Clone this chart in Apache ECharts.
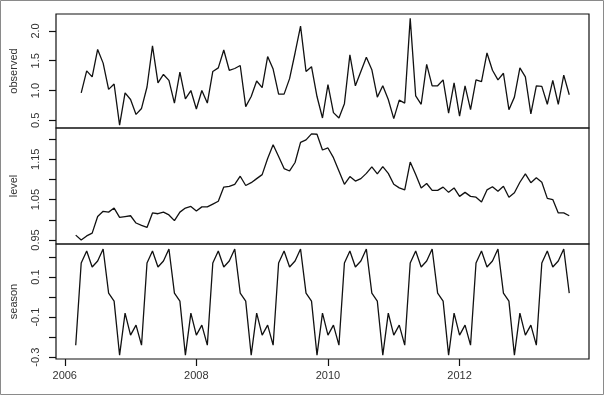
<!DOCTYPE html>
<html>
<head>
<meta charset="utf-8">
<script src="https://cdn.jsdelivr.net/npm/echarts@6/dist/echarts.min.js"></script>
<style>
html,body{margin:0;padding:0;background:#fff;}
#chart{width:605px;height:396px;}
</style>
</head>
<body>
<div id="chart"></div>
<script>
// monthly series, first point March 2006
var startYear = 2006, startMonth = 3;

var observed = [null, 0.96, 1.33, 1.23, 1.69, 1.46, 1.02, 1.11, 0.42, 0.96, 0.85, 0.60,
  0.70, 1.06, 1.75, 1.13, 1.27, 1.17, 0.79, 1.31, 0.86, 1.00, 0.69, 1.00,
  0.79, 1.32, 1.38, 1.68, 1.34, 1.37, 1.42, 0.73, 0.90, 1.16, 1.05, 1.57,
  1.36, 0.94, 0.94, 1.20, 1.63, 2.08, 1.32, 1.40, 0.90, 0.54, 1.10, 0.63,
  0.54, 0.78, 1.60, 1.08, 1.32, 1.56, 1.35, 0.89, 1.08, 0.85, 0.53, 0.84,
  0.79, 2.21, 0.91, 0.77, 1.44, 1.08, 1.08, 1.18, 0.62, 1.13, 0.57, 1.08,
  0.68, 1.18, 1.15, 1.63, 1.34, 1.18, 1.29, 0.68, 0.89, 1.38, 1.23, 0.61,
  1.08, 1.07, 0.77, 1.17, 0.77, 1.26, 0.93];

var level = [0.962, 0.950, 0.960, 0.967, 1.008, 1.021, 1.019, 1.029, 1.006, 1.008, 1.010, 0.992,
  0.986, 0.981, 1.017, 1.015, 1.019, 1.012, 0.998, 1.019, 1.029, 1.033, 1.022, 1.032,
  1.032, 1.039, 1.046, 1.081, 1.083, 1.088, 1.108, 1.085, 1.092, 1.102, 1.112, 1.152,
  1.186, 1.157, 1.127, 1.121, 1.142, 1.192, 1.198, 1.213, 1.212, 1.173, 1.178, 1.154,
  1.121, 1.088, 1.107, 1.096, 1.102, 1.115, 1.131, 1.114, 1.132, 1.115, 1.088, 1.079,
  1.074, 1.143, 1.112, 1.079, 1.090, 1.073, 1.073, 1.081, 1.068, 1.079, 1.058, 1.068,
  1.058, 1.056, 1.044, 1.074, 1.082, 1.071, 1.083, 1.056, 1.067, 1.093, 1.114, 1.092,
  1.104, 1.093, 1.053, 1.050, 1.017, 1.017, 1.010];

var season = [-0.24, 0.17, 0.23, 0.15, 0.18, 0.24, 0.02, -0.02, -0.29, -0.08, -0.19, -0.14,
  -0.24, 0.17, 0.23, 0.15, 0.18, 0.24, 0.02, -0.02, -0.29, -0.08, -0.19, -0.14,
  -0.24, 0.17, 0.23, 0.15, 0.18, 0.24, 0.02, -0.02, -0.29, -0.08, -0.19, -0.14,
  -0.24, 0.17, 0.23, 0.15, 0.18, 0.24, 0.02, -0.02, -0.29, -0.08, -0.19, -0.14,
  -0.24, 0.17, 0.23, 0.15, 0.18, 0.24, 0.02, -0.02, -0.29, -0.08, -0.19, -0.14,
  -0.24, 0.17, 0.23, 0.15, 0.18, 0.24, 0.02, -0.02, -0.29, -0.08, -0.19, -0.14,
  -0.24, 0.17, 0.23, 0.15, 0.18, 0.24, 0.02, -0.02, -0.29, -0.08, -0.19, -0.14,
  -0.24, 0.17, 0.23, 0.15, 0.18, 0.24, 0.02];

var yearTicks = [2006, 2008, 2010, 2012];
var obsTicks = [0.5, 1.0, 1.5, 2.0];
var levelTicks = [0.95, 1.00, 1.05, 1.10, 1.15, 1.20];
var levelLabels = [0.95, 1.05, 1.15];
var seasonTicks = [-0.3, -0.2, -0.1, 0, 0.1, 0.2];
var seasonLabels = [-0.3, -0.1, 0.1];

var F = '"Liberation Sans", Arial, sans-serif';
var INK = '#111';

function pairs(arr) {
  return arr.map(function (v, i) {
    return [startYear + (startMonth - 1 + i) / 12, v];
  });
}

var grids = [
  {left: 52, width: 537, top: 14, height: 114},
  {left: 52, width: 537, top: 128, height: 116},
  {left: 52, width: 537, top: 244, height: 115}
].map(function (g) {
  g.show = true; g.borderColor = INK; g.borderWidth = 1.2; g.backgroundColor = 'transparent';
  return g;
});

var xAxes = [0, 1, 2].map(function (i) {
  return {
    type: 'value', gridIndex: i, min: 2005.867, max: 2013.967,
    show: i === 2, position: 'bottom',
    axisLine: {show: false, onZero: false}, splitLine: {show: false},
    axisTick: {show: true, customValues: yearTicks, length: 7, lineStyle: {color: INK, width: 1.2}},
    axisLabel: {show: true, customValues: yearTicks, margin: 11, color: '#333', fontSize: 11, fontFamily: F,
      formatter: function (v) { return String(v); }}
  };
});

function yAx(idx, name, min, max, ticks, labels, dec) {
  return {
    type: 'value', gridIndex: idx, min: min, max: max,
    name: name, nameLocation: 'middle', nameGap: 37, nameRotate: 90,
    nameTextStyle: {color: '#333', fontSize: 11, fontFamily: F},
    axisLine: {show: false, onZero: false}, splitLine: {show: false},
    axisTick: {show: true, customValues: ticks, length: 7, lineStyle: {color: INK, width: 1.2}},
    axisLabel: {show: true, customValues: labels, rotate: 90, margin: 15, color: '#333', fontSize: 11, fontFamily: F,
      formatter: function (v) { return v.toFixed(dec); }}
  };
}

var yAxes = [
  yAx(0, 'observed', 0.372, 2.284, obsTicks, obsTicks, 1),
  yAx(1, 'level', 0.94, 1.2275, levelTicks, levelLabels, 2),
  yAx(2, 'season', -0.309, 0.265, seasonTicks, seasonLabels, 1)
];

function lineSeries(idx, arr) {
  return {
    type: 'line', xAxisIndex: idx, yAxisIndex: idx, data: pairs(arr),
    showSymbol: false, symbol: 'none', connectNulls: false,
    lineStyle: {color: INK, width: 1.3}
  };
}

var myChart = echarts.init(document.getElementById('chart'));
var option = {
  animation: false,
  backgroundColor: '#fff',
  grid: grids,
  xAxis: xAxes,
  yAxis: yAxes,
  series: [lineSeries(0, observed), lineSeries(1, level), lineSeries(2, season)],
  graphic: [{
    type: 'rect', silent: true,
    shape: {x: 0.5, y: 0.5, width: 603, height: 394},
    style: {fill: null, stroke: '#8a8a8a', lineWidth: 1}
  }]
};
myChart.setOption(option);
window.addEventListener('resize', function () {
  myChart.resize();
});
</script>
</body>
</html>
